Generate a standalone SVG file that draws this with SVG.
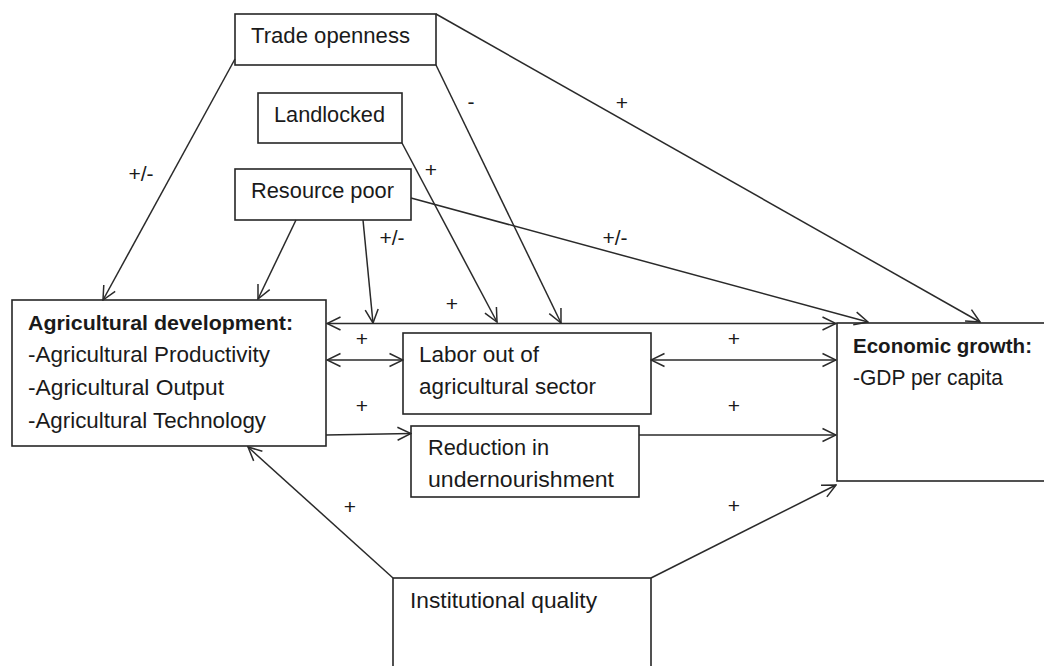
<svg xmlns="http://www.w3.org/2000/svg" width="1044" height="666" viewBox="0 0 1044 666">
<style>
.box{fill:#fff;stroke:#262626;stroke-width:1.6}
.t{font-family:"Liberation Sans",Arial,sans-serif;font-size:22px;fill:#1a1a1a}
.b{font-weight:bold;font-size:21px}
.lbl{font-family:"Liberation Sans",Arial,sans-serif;font-size:21px;fill:#1a1a1a;text-anchor:middle}
.c line{stroke:#2a2a2a;stroke-width:1.5;fill:none}
</style>
<defs>
<marker id="ah" viewBox="0 0 16 16" refX="15" refY="8" markerWidth="16" markerHeight="16" markerUnits="userSpaceOnUse" orient="auto-start-reverse">
<path d="M1.5,1.5 L15,8 L1.5,14.5" fill="none" stroke="#2a2a2a" stroke-width="1.5"/>
</marker>
</defs>
<rect width="1044" height="666" fill="#fff"/>

<g id="trade">
<rect class="box" x="235" y="14" width="201" height="51"/>
<text class="t" x="251" y="43" textLength="159" lengthAdjust="spacingAndGlyphs">Trade openness</text>
</g>
<g id="landlocked">
<rect class="box" x="258" y="93" width="144" height="50"/>
<text class="t" x="274" y="122" textLength="111" lengthAdjust="spacingAndGlyphs">Landlocked</text>
</g>
<g id="resource">
<rect class="box" x="235" y="169" width="176" height="51"/>
<text class="t" x="251" y="198" textLength="143" lengthAdjust="spacingAndGlyphs">Resource poor</text>
</g>
<g id="agri">
<rect class="box" x="12" y="300" width="314" height="146"/>
<text class="t b" x="28" y="330" textLength="265" lengthAdjust="spacingAndGlyphs">Agricultural development:</text>
<text class="t" x="28" y="362" textLength="242" lengthAdjust="spacingAndGlyphs">-Agricultural Productivity</text>
<text class="t" x="28" y="395" textLength="196" lengthAdjust="spacingAndGlyphs">-Agricultural Output</text>
<text class="t" x="28" y="428" textLength="238" lengthAdjust="spacingAndGlyphs">-Agricultural Technology</text>
</g>
<g id="labor">
<rect class="box" x="403" y="333" width="248" height="81"/>
<text class="t" x="419" y="362" textLength="120" lengthAdjust="spacingAndGlyphs">Labor out of</text>
<text class="t" x="419" y="394" textLength="177" lengthAdjust="spacingAndGlyphs">agricultural sector</text>
</g>
<g id="reduction">
<rect class="box" x="411" y="426" width="228" height="71"/>
<text class="t" x="428" y="455" textLength="121" lengthAdjust="spacingAndGlyphs">Reduction in</text>
<text class="t" x="428" y="487" textLength="186" lengthAdjust="spacingAndGlyphs">undernourishment</text>
</g>
<g id="econ">
<rect class="box" x="837" y="323" width="220" height="158"/>
<text class="t b" x="853" y="353" textLength="179" lengthAdjust="spacingAndGlyphs">Economic growth:</text>
<text class="t" x="853" y="385" textLength="150" lengthAdjust="spacingAndGlyphs">-GDP per capita</text>
</g>
<g id="institutional">
<rect class="box" x="393" y="578" width="258" height="100"/>
<text class="t" x="410" y="608" textLength="187" lengthAdjust="spacingAndGlyphs">Institutional quality</text>
</g>

<g id="connectors" class="c">
<line x1="235" y1="59" x2="103" y2="300" marker-end="url(#ah)"/>
<line x1="436" y1="65" x2="561" y2="323" marker-end="url(#ah)"/>
<line x1="436" y1="14" x2="980" y2="322" marker-end="url(#ah)"/>
<line x1="402" y1="143" x2="497" y2="322" marker-end="url(#ah)"/>
<line x1="296" y1="220" x2="258" y2="299" marker-end="url(#ah)"/>
<line x1="363" y1="220" x2="373" y2="323" marker-end="url(#ah)"/>
<line x1="411" y1="198" x2="868" y2="322" marker-end="url(#ah)"/>
<line x1="327" y1="323.5" x2="836" y2="323.5" marker-start="url(#ah)" marker-end="url(#ah)"/>
<line x1="327" y1="360" x2="403" y2="360" marker-start="url(#ah)" marker-end="url(#ah)"/>
<line x1="651" y1="360" x2="836" y2="360" marker-start="url(#ah)" marker-end="url(#ah)"/>
<line x1="326" y1="435" x2="411" y2="433.5" marker-end="url(#ah)"/>
<line x1="639" y1="435" x2="836" y2="435" marker-end="url(#ah)"/>
<line x1="393" y1="578" x2="248" y2="447" marker-end="url(#ah)"/>
<line x1="651" y1="578" x2="836" y2="485" marker-end="url(#ah)"/>
</g>

<g id="labels">
<text class="lbl" x="141" y="181">+/-</text>
<text class="lbl" x="471" y="109">-</text>
<text class="lbl" x="622" y="110">+</text>
<text class="lbl" x="431" y="177">+</text>
<text class="lbl" x="392" y="245">+/-</text>
<text class="lbl" x="615" y="245">+/-</text>
<text class="lbl" x="452" y="311">+</text>
<text class="lbl" x="362" y="346">+</text>
<text class="lbl" x="362" y="413">+</text>
<text class="lbl" x="734" y="346">+</text>
<text class="lbl" x="734" y="413">+</text>
<text class="lbl" x="350" y="514">+</text>
<text class="lbl" x="734" y="513">+</text>
</g>
</svg>
